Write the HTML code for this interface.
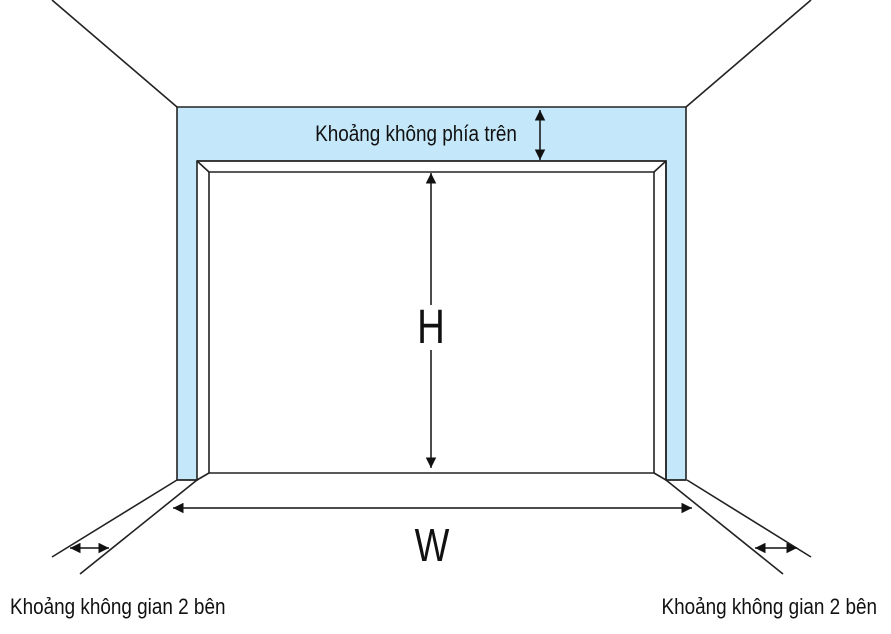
<!DOCTYPE html>
<html><head><meta charset="utf-8"><style>
html,body{margin:0;padding:0;background:#fff;}
svg{display:block;}
text{font-family:"Liberation Sans",sans-serif;fill:#111;}
</style></head><body>
<svg width="891" height="634" viewBox="0 0 891 634">
<defs>
<marker id="a" viewBox="0 0 10 10" refX="10" refY="5" markerWidth="7" markerHeight="7" orient="auto-start-reverse"><path d="M0,0L10,5L0,10z" fill="#111"/></marker>
</defs>
<g stroke="#222" stroke-width="1.6" fill="none">
<line x1="52" y1="0" x2="177" y2="107"/>
<line x1="811" y1="0" x2="686" y2="107"/>
<path d="M177,107H686V480H666V161H197V480H177Z" fill="#c4e7f9"/>
<path d="M197,161H666V480" />
<path d="M209,172H654V473H209Z" fill="#fff"/>
<line x1="197" y1="161" x2="209" y2="172"/>
<line x1="666" y1="161" x2="654" y2="172"/>
<line x1="197" y1="480" x2="209" y2="473"/>
<line x1="666" y1="480" x2="654" y2="473"/>
<line x1="177" y1="480" x2="197" y2="480"/>
<line x1="666" y1="480" x2="686" y2="480"/>
<line x1="177" y1="480" x2="52" y2="557"/>
<line x1="197" y1="480" x2="80" y2="574"/>
<line x1="666" y1="480" x2="783" y2="574"/>
<line x1="687" y1="480" x2="811" y2="557"/>
</g>
<g stroke="#111" stroke-width="1.5" marker-start="url(#a)" marker-end="url(#a)">
<line x1="540" y1="110" x2="540" y2="160"/>
<line x1="431" y1="350" x2="431" y2="468" marker-start="none"/>
<line x1="173" y1="508" x2="692" y2="508"/>
<line x1="70" y1="548" x2="109" y2="548"/>
<line x1="755" y1="548" x2="797" y2="548"/>
</g>
<line x1="431" y1="173" x2="431" y2="305" stroke="#111" stroke-width="1.5" marker-start="url(#a)"/>
<text x="416" y="141" font-size="22" text-anchor="middle" transform="translate(416,0) scale(0.86,1) translate(-416,0)">Khoảng không phía trên</text>
<text x="431" y="343" font-size="48" text-anchor="middle" transform="translate(431,0) scale(0.8,1) translate(-431,0)">H</text>
<text x="432" y="561" font-size="46" text-anchor="middle" transform="translate(432,0) scale(0.8,1) translate(-432,0)">W</text>
<text x="10" y="614" font-size="22" transform="translate(10,0) scale(0.86,1) translate(-10,0)">Khoảng không gian 2 bên</text>
<text x="877" y="614" font-size="22" text-anchor="end" transform="translate(877,0) scale(0.86,1) translate(-877,0)">Khoảng không gian 2 bên</text>
</svg>
</body></html>
